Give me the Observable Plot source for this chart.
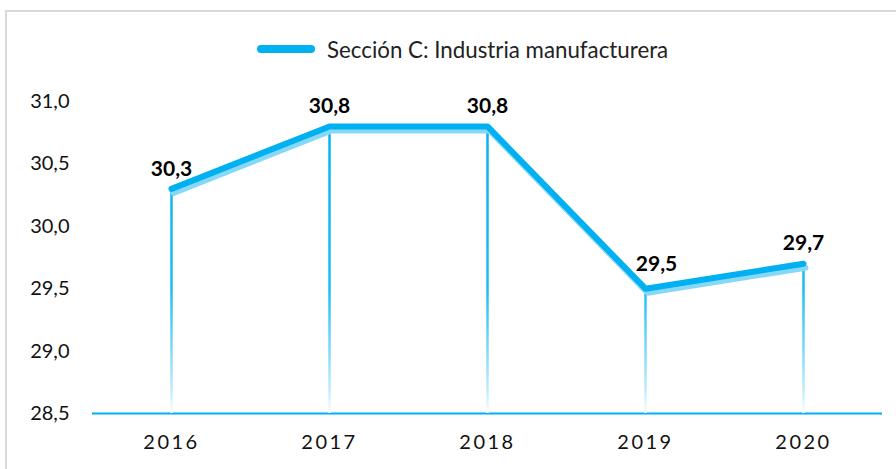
<!DOCTYPE html>
<html><head><meta charset="utf-8">
<script src="https://cdn.jsdelivr.net/npm/d3@7"></script>
<script src="https://cdn.jsdelivr.net/npm/@observablehq/plot@0.6"></script>
<style>
html,body{margin:0;padding:0;background:#fff;width:896px;height:469px;overflow:hidden;font-family:Lato,"Open Sans",sans-serif;}
#frame{position:absolute;left:5px;top:10px;width:1000px;height:600px;border:2px solid #d9d9d9;box-sizing:border-box;}
#legend{position:absolute;left:257px;top:34px;height:30px;display:flex;align-items:center;gap:12px;font-size:22.3px;color:#222;white-space:nowrap;}
#legend .sw{width:58px;height:8px;border-radius:4px;background:#00B0F0;}
#chart{position:absolute;left:0;top:80px;}
</style></head>
<body>
<div id="frame"></div>
<div id="legend"><span class="sw"></span><span id="legtext"></span></div>
<div id="chart"></div>
<script>
const seriesName = "Sección C: Industria manufacturera";
const years = ["2016", "2017", "2018", "2019", "2020"];
const values = [30.3, 30.8, 30.8, 29.5, 29.7];
const yTicks = [28.5, 29.0, 29.5, 30.0, 30.5, 31.0];

document.getElementById("legtext").textContent = seriesName;
const data = years.map((y, i) => ({year: y, value: values[i]}));
const fmt = d => d.toFixed(1).replace(".", ",");
const base = yTicks[0];
// the label of the local minimum sits to the right of its point
const isMin = (d, i) => i > 0 && i < data.length - 1 && d.value < data[i - 1].value && d.value < data[i + 1].value;

const chart = Plot.plot({
  width: 896,
  height: 389,
  marginLeft: 92,
  marginRight: 14,
  marginTop: 21,
  marginBottom: 56,
  style: {fontFamily: "Lato, 'Open Sans', sans-serif", background: "transparent", color: "#111"},
  x: {type: "point", domain: years, padding: 0.5, label: null},
  y: {domain: [28.5, 31.0], ticks: yTicks, label: null, tickFormat: fmt},
  marks: [
    Plot.axisY({ticks: yTicks, tickFormat: fmt, tickSize: 0, tickPadding: 23, fontSize: 20, label: null}),
    Plot.axisX({tickSize: 0, tickPadding: 21, fontSize: 20, label: null}),
    Plot.ruleY([base], {stroke: "#00B0F0", strokeWidth: 2}),
    Plot.ruleX(data, {x: "year", y1: base, y2: "value", stroke: "url(#dropGrad)", strokeWidth: 2.5}),
    Plot.line(data, {x: "year", y: "value", stroke: "#86d8f7", strokeWidth: 6, dx: 2, dy: 4, strokeLinecap: "round", strokeLinejoin: "round"}),
    Plot.line(data, {x: "year", y: "value", stroke: "#00B0F0", strokeWidth: 6, strokeLinecap: "round", strokeLinejoin: "round"}),
    Plot.text(data.filter((d, i) => !isMin(d, i)), {x: "year", y: "value", text: d => fmt(d.value), dy: -20, fontSize: 21, fontWeight: "bold", fill: "#000"}),
    Plot.text(data.filter((d, i) => isMin(d, i)), {x: "year", y: "value", text: d => fmt(d.value), dx: 11, dy: -24, fontSize: 21, fontWeight: "bold", fill: "#000"})
  ]
});

// letter-spaced year labels
d3.select(chart).selectAll("[aria-label='x-axis tick label'] text").style("letter-spacing", "2.5px");

const ys = chart.scale("y");
const yTop = ys.apply(31.0), yBot = ys.apply(base) + 1.5;
const defs = d3.select(chart).insert("defs", ":first-child");
const g = defs.append("linearGradient").attr("id", "dropGrad").attr("gradientUnits", "userSpaceOnUse")
  .attr("x1", 0).attr("x2", 0).attr("y1", yTop).attr("y2", yBot);
g.append("stop").attr("offset", "0").attr("stop-color", "#00B0F0");
g.append("stop").attr("offset", "0.6").attr("stop-color", "#1cbcf3");
g.append("stop").attr("offset", "0.93").attr("stop-color", "#c5eefc");
g.append("stop").attr("offset", "1").attr("stop-color", "#ffffff");

document.getElementById("chart").appendChild(chart);
</script>
</body></html>
